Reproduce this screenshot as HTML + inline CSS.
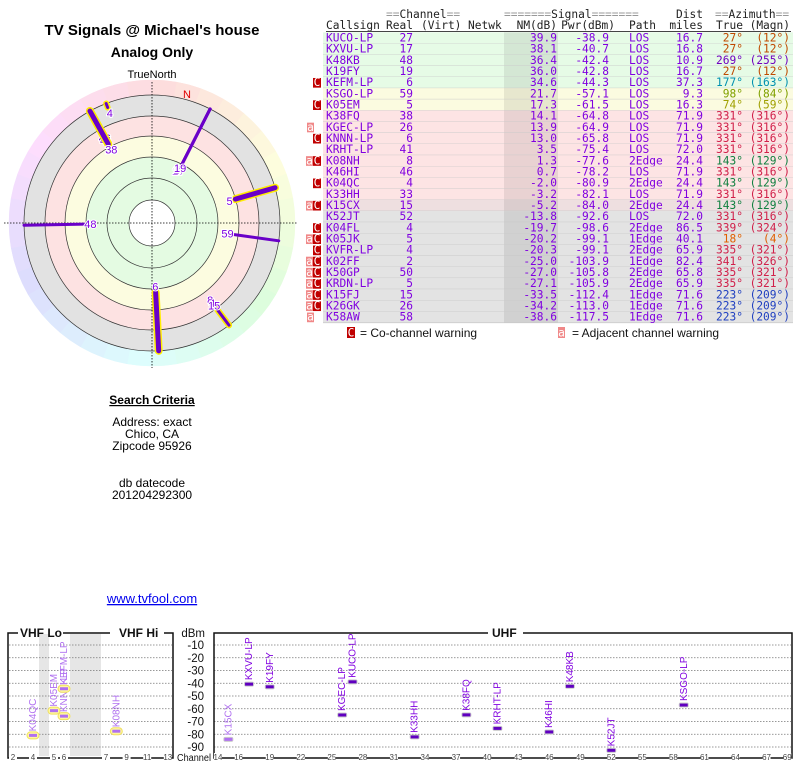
<!DOCTYPE html>
<html><head><meta charset="utf-8">
<style>
body{margin:0;background:#fff;width:800px;height:768px;overflow:hidden}
svg{display:block}
.s{font-family:"Liberation Sans",sans-serif}
.m{font-family:"DejaVu Sans Mono","Liberation Mono",monospace;font-size:11.2px}
</style></head>
<body>
<svg id="root" width="800" height="768" viewBox="0 0 800 768">
<g id="polar"></g>
<g class="s">
<text x="152" y="35" text-anchor="middle" font-size="15" font-weight="bold">TV Signals @ Michael's house</text>
<text x="152" y="57" text-anchor="middle" font-size="14" font-weight="bold">Analog Only</text>
<text x="152" y="78" text-anchor="middle" font-size="11">TrueNorth</text>
<text x="152" y="404" text-anchor="middle" font-size="12" font-weight="bold" text-decoration="underline">Search Criteria</text>
<text x="152" y="426" text-anchor="middle" font-size="12">Address: exact</text>
<text x="152" y="438" text-anchor="middle" font-size="12">Chico, CA</text>
<text x="152" y="450" text-anchor="middle" font-size="12">Zipcode 95926</text>
<text x="152" y="487" text-anchor="middle" font-size="12">db datecode</text>
<text x="152" y="499" text-anchor="middle" font-size="12">201204292300</text>
<text x="152" y="603" text-anchor="middle" font-size="13" fill="#0000ee" text-decoration="underline">www.tvfool.com</text>
</g>
<g id="table"></g>
<g id="spectrum"></g>
</svg>
<script>
// ===== station table data =====
const callsigns=["KUCO-LP","KXVU-LP","K48KB","K19FY","KEFM-LP","KSGO-LP","K05EM","K38FQ","KGEC-LP","KNNN-LP","KRHT-LP","K08NH","K46HI","K04QC","K33HH","K15CX","K52JT","K04FL","K05JK","KVFR-LP","K02FF","K50GP","KRDN-LP","K15FJ","K26GK","K58AW"];
const channels=[27,17,48,19,6,59,5,38,26,6,41,8,46,4,33,15,52,4,5,4,2,50,5,15,26,58];
const nmDb=[39.9,38.1,36.4,36.0,34.6,21.7,17.3,14.1,13.9,13.0,3.5,1.3,0.7,-2.0,-3.2,-5.2,-13.8,-19.7,-20.2,-20.3,-25.0,-27.0,-27.1,-33.5,-34.2,-38.6];
const pwrDbm=[-38.9,-40.7,-42.4,-42.8,-44.3,-57.1,-61.5,-64.8,-64.9,-65.8,-75.4,-77.6,-78.2,-80.9,-82.1,-84.0,-92.6,-98.6,-99.1,-99.1,-103.9,-105.8,-105.9,-112.4,-113.0,-117.5];
const paths=["LOS","LOS","LOS","LOS","LOS","LOS","LOS","LOS","LOS","LOS","LOS","2Edge","LOS","2Edge","LOS","2Edge","LOS","2Edge","1Edge","2Edge","1Edge","2Edge","2Edge","1Edge","1Edge","1Edge"];
const distMiles=[16.7,16.8,10.9,16.7,37.3,9.3,16.3,71.9,71.9,71.9,72.0,24.4,71.9,24.4,71.9,24.4,72.0,86.5,40.1,65.9,82.4,65.8,65.9,71.6,71.6,71.6];
const azTrue=[27,27,269,27,177,98,74,331,331,331,331,143,331,143,331,143,331,339,18,335,341,335,335,223,223,223];
const azMagn=[12,12,255,12,163,84,59,316,316,316,316,129,316,129,316,129,316,324,4,321,326,321,321,209,209,209];
const warnings=["","","","","C","","C","","a","C","","aC","","C","","aC","","C","aC","C","aC","aC","aC","aC","aC","a"];

const NS="http://www.w3.org/2000/svg";
function mk(tag,attrs,parent,txt){const e=document.createElementNS(NS,tag);for(const k in attrs)e.setAttribute(k,attrs[k]);if(txt!==undefined)e.textContent=txt;parent.appendChild(e);return e;}

function azColor(a){
  if(a===27)return "#c04a00"; if(a===18)return "#e06000"; if(a===269)return "#7000c0";
  if(a===177)return "#0090b0"; if(a===98)return "#80a000"; if(a===74)return "#a0a000";
  if(a===143)return "#108040"; if(a===223)return "#2040c0"; return "#d0204a";
}
function rowBg(i){ if(nmDb[i]>=30)return "#e6fbe6"; if(nmDb[i]>=15)return "#fbfbe0"; if(nmDb[i]>=-4)return "#fde4e4"; if(nmDb[i]>=-10)return "#eedfe0"; return "#e3e3e3";}

(function(){
  const T=document.getElementById('table');
  const purple="#8000e0", top=32.3, rh=11.17;
  const h1=mk('text',{x:386,y:18,class:'m',fill:'#222'},T,'');
  h1.innerHTML='<tspan fill="#999">==</tspan>Channel<tspan fill="#999">==</tspan>';
  
  
  const h2=mk('text',{x:504,y:18,class:'m',fill:'#222'},T,'');
  h2.innerHTML='<tspan fill="#999">=======</tspan>Signal<tspan fill="#999">=======</tspan>';
  
  
  const h3=mk('text',{x:703,y:18,class:'m','text-anchor':'end',fill:'#222'},T,'Dist');
  
  
  const h4=mk('text',{x:715,y:18,class:'m',fill:'#222'},T,'');
  h4.innerHTML='<tspan fill="#999">==</tspan>Azimuth<tspan fill="#999">==</tspan>';
  
  
  const heads=[["Callsign",326,'start'],["Real",413,'end'],["(Virt)",421,'start'],["Netwk",468,'start'],["NM(dB)",557,'end'],["Pwr(dBm)",615,'end'],["Path",629,'start'],["miles",703,'end'],["True",743,'end'],["(Magn)",790,'end']];
  heads.forEach(h=>{const e=mk('text',{x:h[1],y:29,class:'m','text-anchor':h[2],fill:'#222'},T,h[0]);
    
    });
  mk('line',{x1:326,y1:31.5,x2:791,y2:31.5,stroke:'#444','stroke-width':1},T);
  callsigns.forEach((c,i)=>{
    const y=top+i*rh;
    const g=mk('g',{},T);
    
    
    mk('rect',{x:323,y:y,width:470,height:rh,fill:rowBg(i)},g);
    mk('rect',{x:504,y:y,width:54,height:rh,fill:'rgba(0,0,0,0.08)'},g);
    mk('line',{x1:323,y1:y+rh,x2:793,y2:y+rh,stroke:'#c8c8c8','stroke-width':0.8},g);
    const by=y+rh-2;
    const cells=[[c,326,'start',purple],[channels[i],413,'end',purple],[nmDb[i].toFixed(1),557,'end',purple],[pwrDbm[i].toFixed(1),609,'end',purple],[paths[i],629,'start',purple],[distMiles[i].toFixed(1),703,'end',purple],[azTrue[i]+'°',743,'end',azColor(azTrue[i])],['('+azMagn[i]+'°)',790,'end',azColor(azTrue[i])]];
    cells.forEach(cl=>mk('text',{x:cl[1],y:by,class:'m','text-anchor':cl[2],fill:cl[3]},g,String(cl[0])));
    const w=warnings[i];
    if(w.includes('C')){const r=mk('rect',{x:313,y:y+1,width:8,height:rh-1.5,fill:'#c00000'},g);
      
      
      mk('text',{x:317,y:by,'text-anchor':'middle',class:'m',fill:'#fff'},g,'C');}
    if(w.includes('a')){const ax=w.includes('C')?306:307;const r=mk('rect',{x:ax,y:y+1,width:7,height:rh-1.5,fill:'#f08888'},g);
      
      
      mk('text',{x:ax+3.5,y:by,'text-anchor':'middle',class:'m',fill:'#fff'},g,'a');}
  });
  const lg=mk('g',{},T);
  
  
  mk('rect',{x:347,y:327,width:8,height:11,fill:'#c00000'},lg);
  mk('text',{x:351,y:336.5,'text-anchor':'middle',class:'m',fill:'#fff'},lg,'C');
  mk('text',{x:360,y:337,class:'s','font-size':12,fill:'#111'},lg,'= Co-channel warning');
  mk('rect',{x:558,y:327,width:7,height:11,fill:'#f08888'},lg);
  mk('text',{x:561.5,y:336.5,'text-anchor':'middle',class:'m',fill:'#fff'},lg,'a');
  mk('text',{x:572,y:337,class:'s','font-size':12,fill:'#111'},lg,'= Adjacent channel warning');
})();

// ===== polar chart data =====
const polarLabels=["27","17","19","5","59","48","6","8","4","15","46","41","6","26","38","4"];
const polarAz=[27,27,27,74,98,269,177,143,143,143,331,331,331,331,331,339];
const polarNm=[39.9,38.1,36.0,17.3,21.7,36.4,34.6,1.3,-2.0,-5.2,0.7,3.5,13.0,13.9,14.1,-19.7];
const polarFlag=[0,0,0,1,0,0,1,1,1,1,1,0,1,1,0,1];

(function(){
  const P=document.getElementById('polar');
  const cx=152,cy=223,R=128,RO=143;
  for(let a=0;a<360;a+=10){
    const a1=(a-90)*Math.PI/180,a2=(a+10-90)*Math.PI/180,ro=RO,ri=R;
    const d=`M${cx+ri*Math.cos(a1)},${cy+ri*Math.sin(a1)} L${cx+ro*Math.cos(a1)},${cy+ro*Math.sin(a1)} A${ro},${ro} 0 0 1 ${cx+ro*Math.cos(a2)},${cy+ro*Math.sin(a2)} L${cx+ri*Math.cos(a2)},${cy+ri*Math.sin(a2)} A${ri},${ri} 0 0 0 ${cx+ri*Math.cos(a1)},${cy+ri*Math.sin(a1)}Z`;
    mk('path',{d:d,fill:`hsl(${a},90%,93%)`,stroke:`hsl(${a},90%,93%)`,'stroke-width':0.5},P);
  }
  [[128,'#e2e2e2'],[107,'#fde2e2'],[87,'#fcfce0'],[66,'#e4fbe2'],[23,'#ffffff']].forEach(b=>mk('circle',{cx:cx,cy:cy,r:b[0],fill:b[1]},P));
  [23,45,66,87,107,128].forEach(r=>mk('circle',{cx:cx,cy:cy,r:r,fill:'none',stroke:'#333','stroke-width':0.7},P));
  mk('line',{x1:4,y1:cy,x2:298,y2:cy,stroke:'#000','stroke-width':0.8,'stroke-dasharray':'1.5,1.5'},P);
  mk('line',{x1:cx,y1:82,x2:cx,y2:368,stroke:'#000','stroke-width':0.8,'stroke-dasharray':'1.5,1.5'},P);
  const n=mk('text',{x:187,y:98,class:'s','font-size':11,fill:'#e00000','text-anchor':'middle'},P,'N');
  
  
  const rOf=nm=>Math.min(125,Math.max(40,104-nm));
  polarLabels.forEach((lb,i)=>{
    const a=(polarAz[i]-90)*Math.PI/180, ri=rOf(polarNm[i]);
    const x1=cx+ri*Math.cos(a),y1=cy+ri*Math.sin(a),x2=cx+R*Math.cos(a),y2=cy+R*Math.sin(a);
    const g=mk('g',{},P);
    
    
    const thick=(polarFlag[i]&&polarNm[i]>10)?5:3;
    if(polarFlag[i])mk('line',{x1:x1,y1:y1,x2:x2,y2:y2,stroke:'#ffee00','stroke-width':thick+3,'stroke-linecap':'round'},g);
    mk('line',{x1:x1,y1:y1,x2:x2,y2:y2,stroke:'#6a00c8','stroke-width':thick,'stroke-linecap':'round'},g);
    const lx=cx+(ri-6)*Math.cos(a),ly=cy+(ri-6)*Math.sin(a)+4;
    mk('text',{x:lx,y:ly,class:'s','font-size':11,fill:'#8000e0','text-anchor':'middle',stroke:'#fff','stroke-width':2,'paint-order':'stroke'},g,lb);
  });
})();

// ===== spectrum chart data =====
const specCalls=["K04QC","K05EM","KNNN-LP","KEFM-LP","K08NH","K15CX","KXVU-LP","K19FY","KGEC-LP","KUCO-LP","K33HH","K38FQ","KRHT-LP","K46HI","K48KB","K52JT","KSGO-LP"];
const specChannels=[4,5,6,6,8,15,17,19,26,27,33,38,41,46,48,52,59];
const specPwr=[-80.9,-61.5,-65.8,-44.3,-77.6,-84.0,-40.7,-42.8,-64.9,-38.9,-82.1,-64.8,-75.4,-78.2,-42.4,-92.6,-57.1];
const dbmTicks=[-10,-20,-30,-40,-50,-60,-70,-80,-90];
const vhfTicks=[2,4,5,6,7,9,11,13];
const uhfTicks=[14,16,19,22,25,28,31,34,37,40,43,46,49,52,55,58,61,64,67,69];

(function(){
  const S=document.getElementById('spectrum');
  const yS=v=>645+(-10-v)*102/80;
  const xV=ch=>ch<=4?13+(ch-2)*10:ch<=6?54+(ch-5)*10:106+(ch-7)*10.3;
  const xU=ch=>218+(ch-14)*10.35;
  const xC=ch=>ch<14?xV(ch):xU(ch);
  mk('rect',{x:39,y:634,width:10,height:122,fill:'#e6e6e6'},S);
  mk('rect',{x:70,y:634,width:31,height:122,fill:'#e6e6e6'},S);
  dbmTicks.forEach(v=>{
    mk('line',{x1:9,y1:yS(v),x2:172,y2:yS(v),stroke:'#777','stroke-width':0.8,'stroke-dasharray':'1.5,1.5'},S);
    mk('line',{x1:214,y1:yS(v),x2:791,y2:yS(v),stroke:'#777','stroke-width':0.8,'stroke-dasharray':'1.5,1.5'},S);
    const t=mk('text',{x:204,y:yS(v)+4,class:'s','font-size':11.5,'text-anchor':'end',fill:'#111'},S,String(v));
    
    
  });
  const fr={stroke:'#111','stroke-width':1.5,fill:'none'};
  mk('path',Object.assign({d:'M18,633 L8,633 L8,758 L173,758 L173,633 L164,633 M63,633 L110,633'},fr),S);
  mk('path',Object.assign({d:'M488,633 L214,633 L214,758 L792,758 L792,633 L523,633'},fr),S);
  [["VHF Lo",20],["VHF Hi",119],["UHF",492]].forEach(b=>{
    const t=mk('text',{x:b[1],y:637,class:'s','font-size':12,'font-weight':'bold',fill:'#111'},S,b[0]);
    
    
  });
  mk('text',{x:205,y:637,class:'s','font-size':11.5,'text-anchor':'end',fill:'#111'},S,'dBm');
  mk('rect',{x:176,y:751,width:37,height:12,fill:'#fff'},S);
  mk('text',{x:177,y:761,class:'s','font-size':10,fill:'#111',textLength:34,lengthAdjust:'spacingAndGlyphs'},S,'Channel');
  vhfTicks.concat(uhfTicks).forEach(ch=>{
    const x=xC(ch);
    mk('rect',{x:x-4,y:753,width:8,height:9,fill:'#fff'},S);
    const t=mk('text',{x:x,y:760,class:'s','font-size':8,'text-anchor':'middle',fill:'#444'},S,String(ch));
    
    
  });
  specCalls.forEach((c,i)=>{
    const x=xC(specChannels[i]),y=yS(specPwr[i]);
    const vhf=specChannels[i]<14, light=vhf||specCalls[i]==="K15CX";
    const g=mk('g',{},S);
    
    
    if(vhf)mk('rect',{x:x-6,y:y-3.5,width:12,height:7,rx:3.5,fill:'#fff8a0',stroke:'#f0e060'},g);
    else mk('rect',{x:x-5,y:y-2.5,width:10,height:5,rx:2,fill:'#ccc'},g);
    mk('rect',{x:x-4,y:y-1.5,width:8,height:3,fill:light?'#b070f0':'#6000c0'},g);
    mk('text',{x:0,y:0,class:'s','font-size':10,fill:light?'#b070f0':'#8000e0',transform:`translate(${x+3},${y-4}) rotate(-90)`},g,c);
  });
})();
</script>
</body></html>
